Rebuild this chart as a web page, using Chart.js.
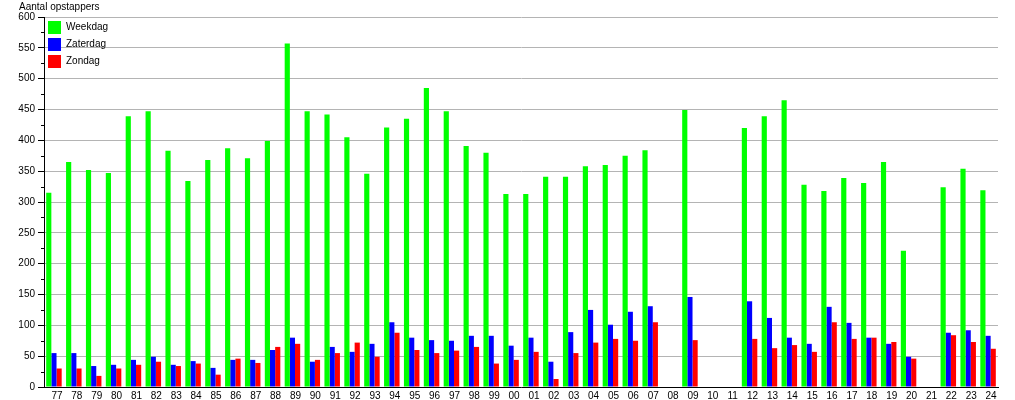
<!DOCTYPE html>
<html>
<head>
<meta charset="utf-8">
<script src="https://cdn.jsdelivr.net/npm/chart.js@4/dist/chart.umd.min.js"></script>
<style>
  body { margin: 0; background: #fff; }
  canvas { display: block; }
</style>
</head>
<body>
<canvas id="myChart" width="1015" height="400"></canvas>
<script>
const jaren = ["77","78","79","80","81","82","83","84","85","86","87","88","89","90","91","92","93","94","95","96","97","98","99",
  "00","01","02","03","04","05","06","07","08","09","10","11","12","13","14","15","16","17","18","19","20","21","22","23","24"];

const weekdag = [315,365,352,347,439,447,383,334,368,387,371,399,557,447,442,405,346,421,435,485,447,391,380,
  313,313,341,341,358,360,375,384,null,449,null,null,420,439,465,328,318,339,331,365,221,null,324,354,319];

const zaterdag = [55,55,34,36,44,49,36,42,31,44,44,60,80,41,65,57,70,105,80,76,75,83,83,
  67,80,41,89,125,101,122,131,null,146,null,null,139,112,80,70,130,104,80,70,49,null,88,92,83];

const zondag = [30,30,18,30,36,41,34,38,20,46,39,65,70,44,55,72,49,88,60,55,59,65,38,
  44,57,13,55,72,78,75,105,null,76,null,null,78,63,68,57,105,78,80,73,46,null,84,73,62];

const yTitel = "Aantal opstappers";
const fontFam = '"Liberation Sans", Arial, sans-serif';

// titel linksboven en kleine tussenstreepjes op de y-as
const extras = {
  id: "extras",
  afterLayout(chart) {
    // legenda binnen het plotvlak: bovenkant gelijk aan chartArea
    const lg = chart.legend;
    if (lg) {
      lg.top = chart.chartArea.top;
      lg.bottom = chart.chartArea.bottom;
    }
  },
  afterDraw(chart) {
    const ctx = chart.ctx;
    const y = chart.scales.y;
    const area = chart.chartArea;
    ctx.save();
    ctx.strokeStyle = "#000";
    ctx.lineWidth = 1;
    for (let v = 25; v < 600; v += 50) {
      const py = Math.round(y.getPixelForValue(v)) + 0.5;
      ctx.beginPath();
      ctx.moveTo(area.left - 3, py);
      ctx.lineTo(area.left, py);
      ctx.stroke();
    }
    ctx.fillStyle = "#000";
    ctx.font = "10px " + fontFam;
    ctx.textBaseline = "middle";
    ctx.fillText(yTitel, 19, 7);
    ctx.restore();
  },
};

const ctx = document.getElementById("myChart");

const chart = new Chart(ctx, {
  type: "bar",
  data: {
    labels: jaren,
    datasets: [
      { label: "Weekdag", data: weekdag, backgroundColor: "#00ff00" },
      { label: "Zaterdag", data: zaterdag, backgroundColor: "#0000ff" },
      { label: "Zondag", data: zondag, backgroundColor: "#ff0000" },
    ],
  },
  options: {
    responsive: false,
    animation: false,
    devicePixelRatio: 1,
    layout: { padding: { top: 17, right: 17, left: 0, bottom: 0 } },
    datasets: {
      bar: { categoryPercentage: 0.78, barPercentage: 1, borderWidth: 0 },
    },
    scales: {
      x: {
        grid: { display: false, drawTicks: false },
        border: { display: true, color: "#000" },
        ticks: {
          color: "#000",
          font: { family: fontFam, size: 10 },
          maxRotation: 0,
          autoSkip: false,
          labelOffset: 3,
          padding: 3,
        },
        afterFit: (s) => { s.height = 13; },
      },
      y: {
        min: 0,
        max: 600,
        grid: { color: "#b4b4b4", tickColor: "#000", tickLength: 6, drawTicks: true },
        border: { display: true, color: "#000" },
        ticks: {
          stepSize: 50,
          color: "#000",
          font: { family: fontFam, size: 10 },
          padding: 3,
        },
        afterFit: (s) => { s.width = 44; },
      },
    },
    plugins: {
      tooltip: { enabled: false },
      legend: {
        position: "chartArea",
        align: "start",
        labels: {
          boxWidth: 13,
          boxHeight: 13,
          padding: 4,
          color: "#000",
          font: { family: fontFam, size: 10 },
        },
      },
    },
  },
  plugins: [extras],
});
</script>
</body>
</html>
